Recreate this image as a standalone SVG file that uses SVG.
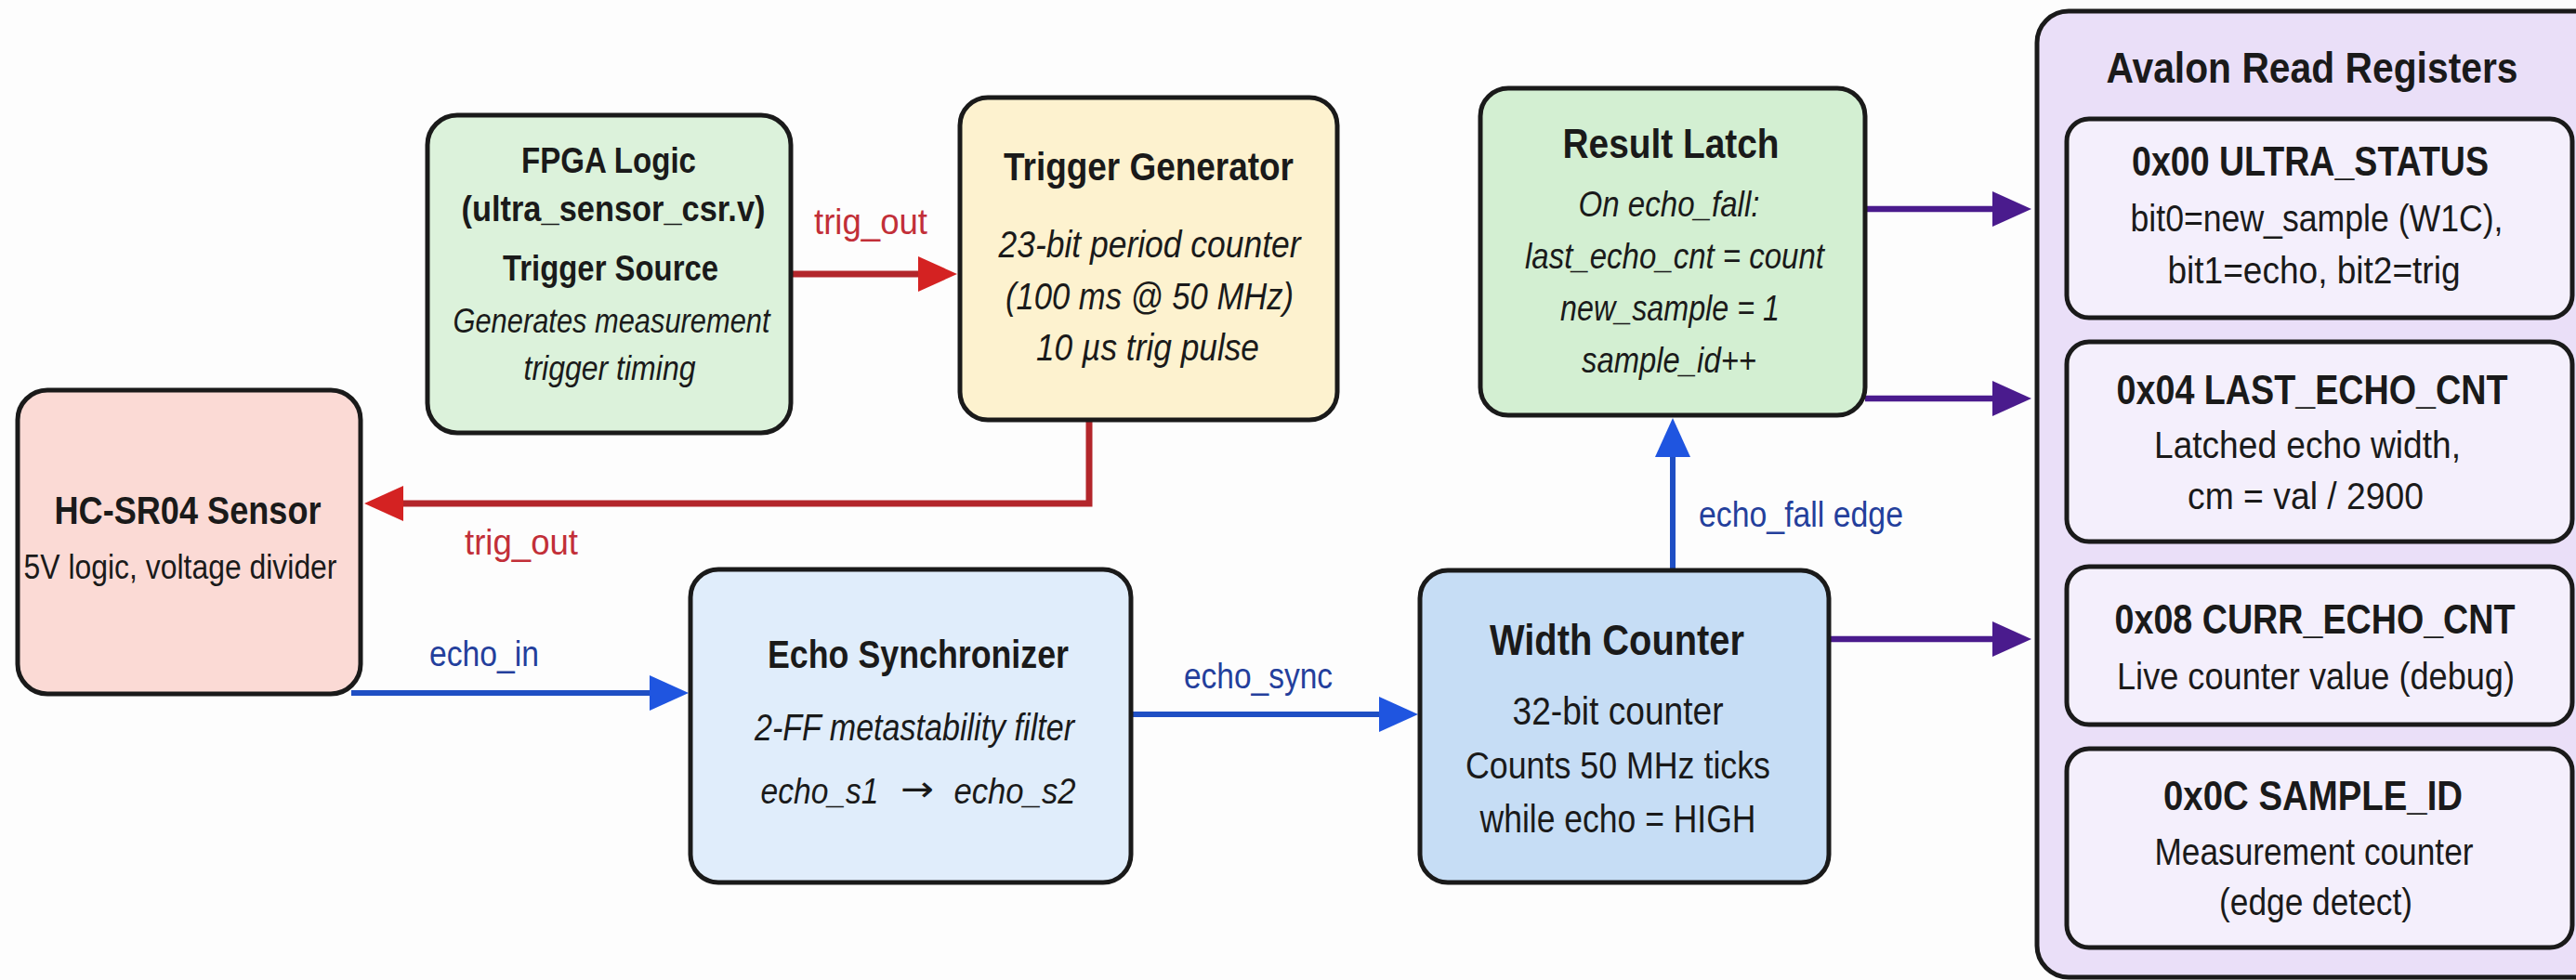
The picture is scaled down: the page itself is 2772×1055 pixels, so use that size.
<svg xmlns="http://www.w3.org/2000/svg" width="2772" height="1055" viewBox="0 0 2772 1055">
<defs>
<style>
text{font-family:"Liberation Sans",Arial,sans-serif;fill:#1a1a1a;text-anchor:middle}
.box{stroke:#1a1a1a;stroke-width:5}
.bd{font-weight:bold}
.it{font-style:italic}
.red{stroke:#b3262b;stroke-width:7;fill:none}
.blue{stroke:#1f4fc4;stroke-width:6;fill:none}
.pur{stroke:#4a1b8d;stroke-width:6.5;fill:none}
text.lr{fill:#c22f38}
text.lb{fill:#243f9c}
text.arw{font-family:"DejaVu Sans",sans-serif;font-style:normal}
</style>
<marker id="arR" markerUnits="userSpaceOnUse" viewBox="0 0 42 38" markerWidth="42" markerHeight="38" refX="22" refY="19" orient="auto"><path d="M0,0 L42,19 L0,38 Z" fill="#d42222"/></marker>
<marker id="arB" markerUnits="userSpaceOnUse" viewBox="0 0 42 38" markerWidth="42" markerHeight="38" refX="22" refY="19" orient="auto"><path d="M0,0 L42,19 L0,38 Z" fill="#1f55e0"/></marker>
<marker id="arP" markerUnits="userSpaceOnUse" viewBox="0 0 42 38" markerWidth="42" markerHeight="38" refX="22" refY="19" orient="auto"><path d="M0,0 L42,19 L0,38 Z" fill="#4a1b8d"/></marker>
</defs>
<rect x="0" y="0" width="2772" height="1055" fill="#fdfdfd"/>

<g id="connectors">
<path class="red" d="M851,295 L1010,295" marker-end="url(#arR)"/>
<path class="red" d="M1172,452 L1172,542 L412,542" marker-end="url(#arR)"/>
<path class="blue" d="M378,746 L721,746" marker-end="url(#arB)"/>
<path class="blue" d="M1217,769 L1506,769" marker-end="url(#arB)"/>
<path class="blue" d="M1800,614 L1800,470" marker-end="url(#arB)"/>
<path class="pur" d="M2007,225 L2166,225" marker-end="url(#arP)"/>
<path class="pur" d="M2007,429 L2166,429" marker-end="url(#arP)"/>
<path class="pur" d="M1968,688 L2166,688" marker-end="url(#arP)"/>
<text class="lr" x="937" y="252" font-size="38" textLength="122" lengthAdjust="spacingAndGlyphs">trig_out</text>
<text class="lr" x="561" y="597" font-size="38" textLength="122" lengthAdjust="spacingAndGlyphs">trig_out</text>
<text class="lb" x="521" y="717" font-size="38" textLength="118" lengthAdjust="spacingAndGlyphs">echo_in</text>
<text class="lb" x="1354" y="741" font-size="38" textLength="160" lengthAdjust="spacingAndGlyphs">echo_sync</text>
<text class="lb" x="1938" y="567" font-size="38" textLength="220" lengthAdjust="spacingAndGlyphs">echo_fall edge</text>
</g>

<g id="fpga">
<rect class="box" x="460" y="124" width="391" height="342" rx="32" fill="#dcf2db"/>
<text class="bd" x="655" y="186" font-size="39" textLength="188" lengthAdjust="spacingAndGlyphs">FPGA Logic</text>
<text class="bd" x="660" y="238" font-size="39" textLength="327" lengthAdjust="spacingAndGlyphs">(ultra_sensor_csr.v)</text>
<text class="bd" x="657" y="302" font-size="39" textLength="232" lengthAdjust="spacingAndGlyphs">Trigger Source</text>
<text class="it" x="658" y="358" font-size="36" textLength="341" lengthAdjust="spacingAndGlyphs">Generates measurement</text>
<text class="it" x="656" y="409" font-size="36" textLength="185" lengthAdjust="spacingAndGlyphs">trigger timing</text>
</g>

<g id="hcsr04">
<rect class="box" x="19" y="420" width="369" height="327" rx="32" fill="#fbdad5"/>
<text class="bd" x="202" y="564" font-size="42.5" textLength="287" lengthAdjust="spacingAndGlyphs">HC-SR04 Sensor</text>
<text x="194" y="623" font-size="37" textLength="337" lengthAdjust="spacingAndGlyphs">5V logic, voltage divider</text>
</g>

<g id="trigger">
<rect class="box" x="1033" y="105" width="406" height="347" rx="30" fill="#fdf2cf"/>
<text class="bd" x="1236" y="194" font-size="43" textLength="312" lengthAdjust="spacingAndGlyphs">Trigger Generator</text>
<text class="it" x="1237" y="277" font-size="40" textLength="325" lengthAdjust="spacingAndGlyphs">23-bit period counter</text>
<text class="it" x="1237" y="333" font-size="40" textLength="310" lengthAdjust="spacingAndGlyphs">(100 ms @ 50 MHz)</text>
<text class="it" x="1235" y="388" font-size="40" textLength="240" lengthAdjust="spacingAndGlyphs">10 µs trig pulse</text>
</g>

<g id="latch">
<rect class="box" x="1593" y="95" width="414" height="352" rx="30" fill="#d3efd2"/>
<text class="bd" x="1798" y="170" font-size="45" textLength="233" lengthAdjust="spacingAndGlyphs">Result Latch</text>
<text class="it" x="1796" y="233" font-size="38.5" textLength="195" lengthAdjust="spacingAndGlyphs">On echo_fall:</text>
<text class="it" x="1802" y="289" font-size="38.5" textLength="322" lengthAdjust="spacingAndGlyphs">last_echo_cnt = count</text>
<text class="it" x="1797" y="345" font-size="38.5" textLength="236" lengthAdjust="spacingAndGlyphs">new_sample = 1</text>
<text class="it" x="1796" y="401" font-size="38.5" textLength="188" lengthAdjust="spacingAndGlyphs">sample_id++</text>
</g>

<g id="echosync">
<rect class="box" x="743" y="613" width="474" height="337" rx="30" fill="#e0edfb"/>
<text class="bd" x="988" y="719" font-size="42" textLength="324" lengthAdjust="spacingAndGlyphs">Echo Synchronizer</text>
<text class="it" x="984" y="797" font-size="40" textLength="344" lengthAdjust="spacingAndGlyphs">2-FF metastability filter</text>
<text class="it" x="882" y="865" font-size="38" textLength="127" lengthAdjust="spacingAndGlyphs">echo_s1</text>
<text class="arw" x="987" y="862" font-size="38" textLength="36" lengthAdjust="spacingAndGlyphs">→</text>
<text class="it" x="1092" y="865" font-size="38" textLength="131" lengthAdjust="spacingAndGlyphs">echo_s2</text>
</g>

<g id="widthcounter">
<rect class="box" x="1528" y="614" width="440" height="336" rx="30" fill="#c6ddf5"/>
<text class="bd" x="1740" y="705" font-size="46" textLength="274" lengthAdjust="spacingAndGlyphs">Width Counter</text>
<text x="1741" y="780" font-size="42" textLength="227" lengthAdjust="spacingAndGlyphs">32-bit counter</text>
<text x="1741" y="838" font-size="41.5" textLength="328" lengthAdjust="spacingAndGlyphs">Counts 50 MHz ticks</text>
<text x="1741" y="896" font-size="42" textLength="297" lengthAdjust="spacingAndGlyphs">while echo = HIGH</text>
</g>

<g id="avalon">
<rect class="box" x="2192" y="12" width="620" height="1040" rx="34" fill="#eadff8"/>
<text class="bd" x="2488" y="89" font-size="46" textLength="443" lengthAdjust="spacingAndGlyphs">Avalon Read Registers</text>
</g>

<g id="reg00">
<rect class="box" x="2224" y="128" width="544" height="214" rx="24" fill="#f4effc"/>
<text class="bd" x="2486" y="189" font-size="43.5" textLength="384" lengthAdjust="spacingAndGlyphs">0x00 ULTRA_STATUS</text>
<text x="2493" y="249" font-size="41.5" textLength="401" lengthAdjust="spacingAndGlyphs">bit0=new_sample (W1C),</text>
<text x="2490" y="305" font-size="41.5" textLength="315" lengthAdjust="spacingAndGlyphs">bit1=echo, bit2=trig</text>
</g>

<g id="reg04">
<rect class="box" x="2224" y="368" width="544" height="215" rx="24" fill="#f4effc"/>
<text class="bd" x="2488" y="435" font-size="43.5" textLength="421" lengthAdjust="spacingAndGlyphs">0x04 LAST_ECHO_CNT</text>
<text x="2483" y="493" font-size="41.5" textLength="330" lengthAdjust="spacingAndGlyphs">Latched echo width,</text>
<text x="2481" y="548" font-size="41.5" textLength="254" lengthAdjust="spacingAndGlyphs">cm = val / 2900</text>
</g>

<g id="reg08">
<rect class="box" x="2224" y="610" width="544" height="170" rx="24" fill="#f4effc"/>
<text class="bd" x="2491" y="682" font-size="43.5" textLength="431" lengthAdjust="spacingAndGlyphs">0x08 CURR_ECHO_CNT</text>
<text x="2492" y="742" font-size="41.5" textLength="428" lengthAdjust="spacingAndGlyphs">Live counter value (debug)</text>
</g>

<g id="reg0c">
<rect class="box" x="2224" y="806" width="544" height="214" rx="24" fill="#f4effc"/>
<text class="bd" x="2489" y="872" font-size="44" textLength="322" lengthAdjust="spacingAndGlyphs">0x0C SAMPLE_ID</text>
<text x="2490" y="931" font-size="41.5" textLength="343" lengthAdjust="spacingAndGlyphs">Measurement counter</text>
<text x="2492" y="985" font-size="41.5" textLength="208" lengthAdjust="spacingAndGlyphs">(edge detect)</text>
</g>
</svg>
